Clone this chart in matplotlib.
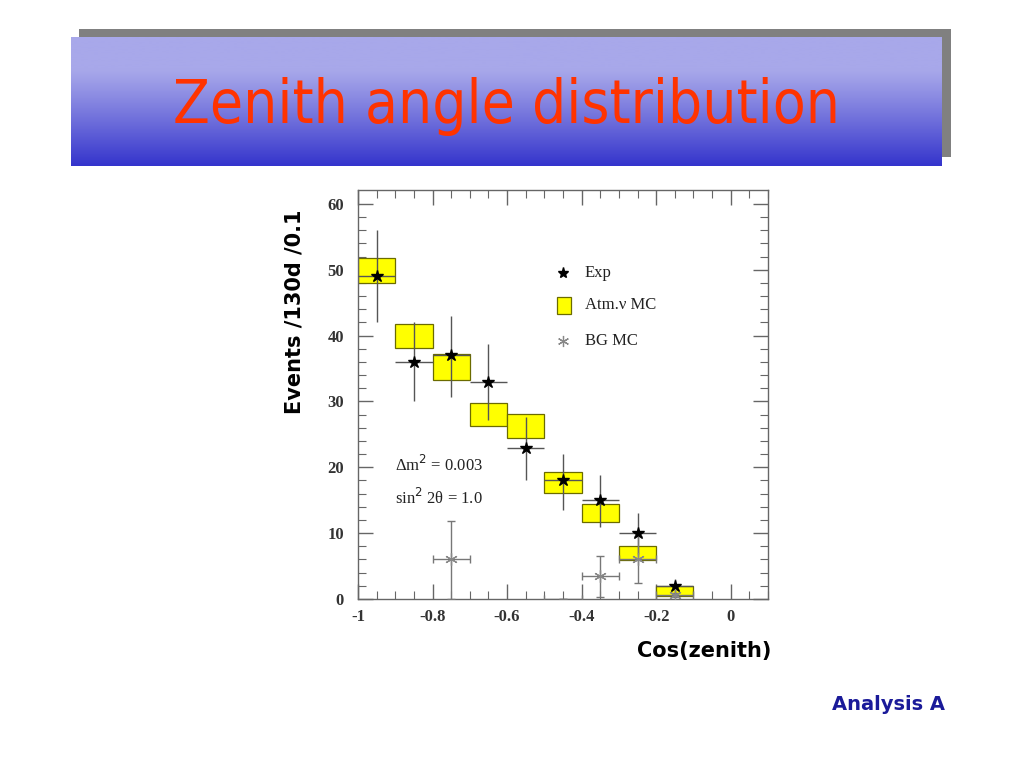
import matplotlib
matplotlib.use("Agg")
import matplotlib.pyplot as plt
import numpy as np
from matplotlib.patches import Rectangle

# data
bin_centers = [-0.95, -0.85, -0.75, -0.65, -0.55, -0.45, -0.35, -0.25, -0.15]
exp_vals = [49, 36, 37, 33, 23, 18, 15, 10, 2]
exp_lo = [42, 30, 30.7, 27.2, 18.1, 13.5, 11, 6.8, 0.9]
exp_hi = [56, 42, 43, 38.7, 27.7, 22, 18.8, 13, 3.1]
mc_lo = [48.0, 38.1, 33.2, 26.2, 24.4, 16.1, 11.7, 5.9, 0.5]
mc_hi = [51.7, 41.8, 37.2, 29.7, 28.1, 19.3, 14.5, 8.05, 1.9]
bg_x = [-0.75, -0.45, -0.35, -0.25, -0.15]
bg_vals = [6, 0, 3.5, 6, 0.6]
bg_lo = [0, 0, 0.35, 2.4, 0.3]
bg_hi = [11.8, 0, 6.5, 9.5, 0.9]

W, H = 1024, 768
fig = plt.figure(figsize=(10.24, 7.68), dpi=100)
fig.patch.set_facecolor('white')

def fx(px):
    return px / W

def fy(py):
    return 1 - py / H

# banner shadow
sax = fig.add_axes([fx(79), fy(157), fx(951) - fx(79), fy(29) - fy(157)])
sax.set_facecolor('#808080')
sax.set_xticks([])
sax.set_yticks([])
for s in sax.spines.values():
    s.set_visible(False)

# banner gradient
bax = fig.add_axes([fx(71), fy(166), fx(942) - fx(71), fy(37) - fy(166)])
t = np.linspace(0, 1, 256)
ramp = np.clip((t - 0.25) / 0.75, 0, 1) ** 1.1
top = np.array([168, 168, 234]) / 255
bot = np.array([52, 52, 204]) / 255
grad = top[None, :] * (1 - ramp[:, None]) + bot[None, :] * ramp[:, None]
bax.imshow(grad[:, None, :], aspect='auto', extent=[0, 1, 0, 1])
bax.set_axis_off()
title = bax.text(0.4995, 0.465, 'Zenith angle distribution', color='#ff3300', fontsize=46,
                 ha='center', va='center', family='DejaVu Sans', stretch='condensed',
                 transform=bax.transAxes)
# fit the title to the width it has in the slide
r = fig.canvas.get_renderer()
w = title.get_window_extent(r).width
title.set_fontsize(46 * 666 / w)

# main plot
ax = fig.add_axes([fx(358), fy(599), fx(768) - fx(358), fy(190) - fy(599)])
serif = 'Liberation Serif'

for c, lo, hi in zip(bin_centers, mc_lo, mc_hi):
    ax.add_patch(Rectangle((c - 0.05, lo), 0.1, hi - lo, facecolor='#ffff00',
                           edgecolor='#6b6b00', linewidth=0.9, zorder=2))

yerr = [np.array(exp_vals) - np.array(exp_lo), np.array(exp_hi) - np.array(exp_vals)]
ax.errorbar(bin_centers, exp_vals, xerr=0.05, yerr=yerr, fmt='none',
            ecolor='#555555', elinewidth=1.0, zorder=3)
ax.plot(bin_centers, exp_vals, linestyle='none', marker='*', markersize=9,
        color='black', zorder=4)

bg_err = [np.array(bg_vals) - np.array(bg_lo), np.array(bg_hi) - np.array(bg_vals)]
ax.errorbar(bg_x, bg_vals, xerr=0.05, yerr=bg_err, fmt='none', ecolor='#777777',
            elinewidth=1.0, capsize=3, zorder=3)
# markers only where the BG value is above the axis
bg_mx = [x for x, v in zip(bg_x, bg_vals) if v > 0]
bg_my = [v for v in bg_vals if v > 0]
ax.plot(bg_mx, bg_my, linestyle='none', marker=(6, 2, 0), markersize=9,
        color='#888888', markeredgewidth=0.9, zorder=4)

ax.set_xlim(-1, 0.1)
ax.set_ylim(0, 62.1)
ax.set_xticks([-1, -0.8, -0.6, -0.4, -0.2, 0])
ax.set_xticklabels(['-1', '-0.8', '-0.6', '-0.4', '-0.2', '0'])
ax.set_xticks(np.arange(-1, 0.101, 0.05), minor=True)
ax.set_yticks([0, 10, 20, 30, 40, 50, 60])
ax.set_yticks(np.arange(0, 62, 2), minor=True)
ax.tick_params(which='both', direction='in', top=True, right=True, color='#666666')
ax.tick_params(which='major', length=11, width=1.0)
ax.tick_params(which='minor', length=6, width=0.8)
ax.tick_params(axis='both', labelsize=12, labelcolor='#333333')
ax.tick_params(axis='y', pad=10)
ax.tick_params(axis='x', pad=7)
for lab in ax.get_xticklabels() + ax.get_yticklabels():
    lab.set_family(serif)
    lab.set_fontweight('bold')
for s in ax.spines.values():
    s.set_color('#666666')
    s.set_linewidth(1.0)

# legend drawn by hand in axes data
ax.plot([-0.45], [49.5], marker='*', markersize=8, color='black', linestyle='none')
ax.text(-0.392, 49.5, 'Exp', family=serif, fontsize=12, va='center', color='#222222')
ax.add_patch(Rectangle((-0.467, 43.3), 0.0375, 2.5, facecolor='#ffff00',
                       edgecolor='#6b6b00', linewidth=0.9))
ax.text(-0.392, 44.6, 'Atm.ν MC', family=serif, fontsize=12, va='center', color='#222222')
ax.plot([-0.45], [39.1], marker=(6, 2, 0), markersize=8, color='#888888',
        markeredgewidth=0.9, linestyle='none')
ax.text(-0.392, 39.1, 'BG MC', family=serif, fontsize=12, va='center', color='#222222')

ax.text(-0.90, 20.3, 'Δm$^2$ = 0.003', family=serif, fontsize=12, va='center', color='#222222')
ax.text(-0.90, 15.3, 'sin$^2$ 2θ = 1.0', family=serif, fontsize=12, va='center', color='#222222')

fig.text(fx(295), fy(312), 'Events /130d /0.1', rotation=90, ha='center', va='center',
         fontsize=15, fontweight='bold', family='DejaVu Sans', color='black')
fig.text(fx(771), fy(651), 'Cos(zenith)', ha='right', va='center',
         fontsize=15, fontweight='bold', family='DejaVu Sans', color='black')
fig.text(fx(945), fy(705), 'Analysis A', ha='right', va='center',
         fontsize=14, fontweight='bold', family='DejaVu Sans', color='#1a1a99')

fig.savefig('out.png', dpi=100, facecolor='white')
